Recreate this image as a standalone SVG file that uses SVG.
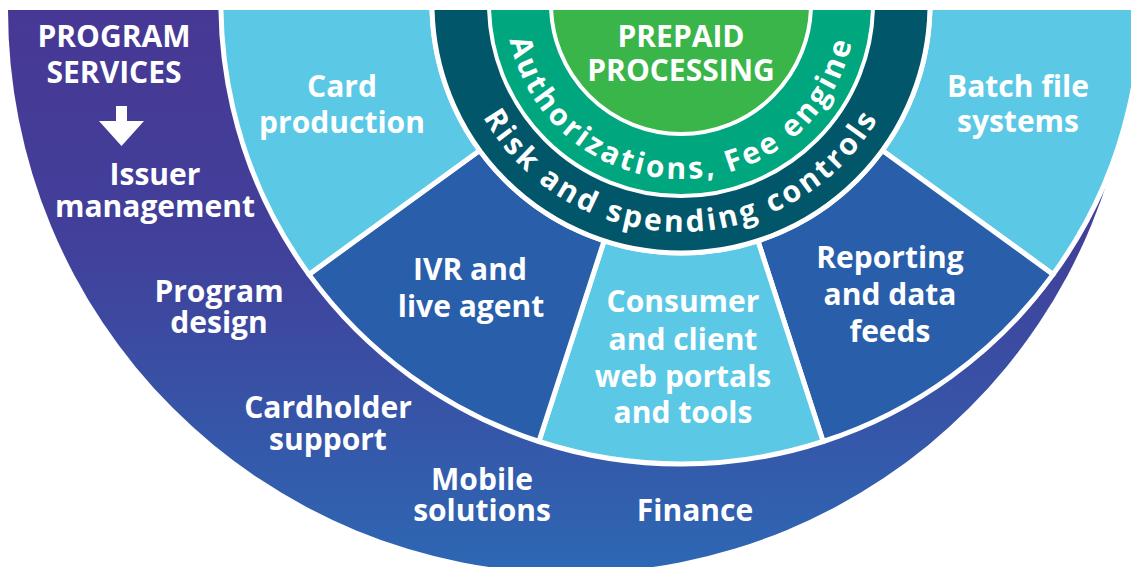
<svg xmlns="http://www.w3.org/2000/svg" width="1131" height="567" viewBox="0 0 1131 567">
  <style>
    text { font-family: 'Open Sans', 'Liberation Sans', sans-serif; font-weight: 700; font-size: 30px; fill: #ffffff; text-anchor: middle; }
    .sector { stroke: #ffffff; stroke-width: 5; stroke-linejoin: round; }
    .light { fill: #5bc8e6; }
    .dark { fill: #285eaa; }
    .ring { stroke: #ffffff; }
    .curved { letter-spacing: 3px; }
  </style>
  <defs>
    <clipPath id="clip">
      <rect x="0" y="10" width="1131" height="557"/>
    </clipPath>
    <linearGradient id="purple" gradientUnits="userSpaceOnUse" x1="0" y1="10" x2="0" y2="573">
      <stop offset="0" stop-color="#473895"/>
      <stop offset="0.42" stop-color="#41409a"/>
      <stop offset="1" stop-color="#2d68b4"/>
    </linearGradient>
    <path id="arcAuth" d="M 506 4 A 175 175 0 0 0 856 4"/>
    <path id="arcRisk" d="M 453 4 A 228 228 0 0 0 909 4"/>
  </defs>
  <rect width="1131" height="567" fill="#ffffff"/>
  <g clip-path="url(#clip)">
    <g id="program-services">
      <circle cx="571" cy="10" r="563" fill="url(#purple)"/>
      <text x="114" y="47">PROGRAM</text>
      <text x="114" y="83">SERVICES</text>
      <polygon points="116,106 127,106 127,121 144,121 121.5,146 99,121 116,121" fill="#ffffff"/>
      <text x="155" y="185">Issuer</text>
      <text x="155" y="217">management</text>
      <text x="219" y="302">Program</text>
      <text x="219" y="333">design</text>
      <text x="328" y="418">Cardholder</text>
      <text x="328" y="450">support</text>
      <text x="482" y="490">Mobile</text>
      <text x="482" y="521">solutions</text>
      <text x="695" y="521">Finance</text>
    </g>
    <g id="batch-file-systems">
      <path class="sector light" d="M 1134 -75.9 A 460 460 0 0 1 1053.1 274.4 L 882.4 150.4 A 249 249 0 0 0 926.2 -39.2 Z"/>
      <text x="1018" y="97">Batch file</text>
      <text x="1018" y="132">systems</text>
    </g>
    <g id="reporting">
      <path class="sector dark" d="M 1053.1 274.4 A 460 460 0 0 1 823.1 441.5 L 757.9 240.8 A 249 249 0 0 0 882.4 150.4 Z"/>
      <text x="890" y="268">Reporting</text>
      <text x="890" y="305">and data</text>
      <text x="890" y="342">feeds</text>
    </g>
    <g id="consumer-portals">
      <path class="sector light" d="M 823.1 441.5 A 460 460 0 0 1 538.9 441.5 L 604.1 240.8 A 249 249 0 0 0 757.9 240.8 Z"/>
      <text x="683" y="312">Consumer</text>
      <text x="683" y="350">and client</text>
      <text x="683" y="387">web portals</text>
      <text x="683" y="423">and tools</text>
    </g>
    <g id="ivr">
      <path class="sector dark" d="M 538.9 441.5 A 460 460 0 0 1 308.9 274.4 L 479.6 150.4 A 249 249 0 0 0 604.1 240.8 Z"/>
      <text x="470" y="280">IVR and</text>
      <text x="471" y="317">live agent</text>
    </g>
    <g id="card-production">
      <path class="sector light" d="M 308.9 274.4 A 460 460 0 0 1 228 -75.9 L 435.8 -39.2 A 249 249 0 0 0 479.6 150.4 Z"/>
      <text x="342" y="97">Card</text>
      <text x="342" y="133">production</text>
    </g>
    <g id="risk-controls">
      <circle class="ring" cx="681" cy="4" r="249" fill="#02566a" stroke-width="5"/>
      <text class="curved"><textPath href="#arcRisk" startOffset="50%">Risk and spending controls</textPath></text>
    </g>
    <g id="authorizations">
      <circle class="ring" cx="681" cy="4" r="192" fill="#00a67e" stroke-width="4"/>
      <text class="curved"><textPath href="#arcAuth" startOffset="50%">Authorizations, Fee engine</textPath></text>
    </g>
    <g id="prepaid-processing">
      <circle class="ring" cx="681" cy="4" r="130" fill="#39b54a" stroke-width="4"/>
      <text x="681" y="47">PREPAID</text>
      <text x="681" y="81">PROCESSING</text>
    </g>
    <g id="connectors"/>
  </g>
</svg>
